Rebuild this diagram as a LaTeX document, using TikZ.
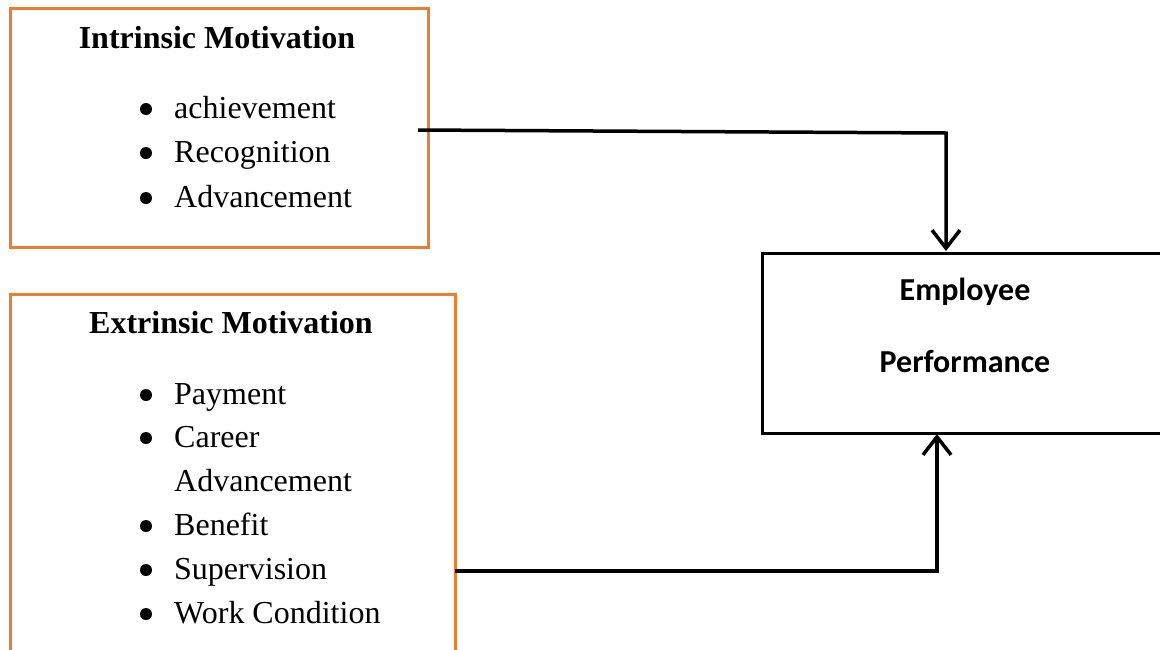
\documentclass[tikz,border=0pt]{standalone}
\usepackage{fontspec}
\setmainfont{Liberation Serif}
\newfontfamily\calfont{Carlito}
\usetikzlibrary{arrows.meta}
\definecolor{boxorange}{HTML}{ED7D31}
\tikzset{
  x=1pt, y=-1pt,
  obox/.style={draw=boxorange, line width=2.5pt, rectangle, anchor=north west, inner sep=0pt},
  kbox/.style={draw=black, line width=2.5pt, rectangle, anchor=north west, inner sep=0pt},
  ttl/.style={font=\fontsize{32}{38}\selectfont\bfseries, anchor=base, inner sep=0pt},
  itm/.style={font=\fontsize{32}{38}\selectfont, anchor=base west, inner sep=0pt},
  bul/.style={circle, fill=black, minimum size=12pt, inner sep=0pt},
  emp/.style={font=\calfont\fontsize{32}{38}\selectfont\bfseries, anchor=base, inner sep=0pt},
  conn/.style={line width=3.5pt, -{Straight Barb[length=18pt,width=28pt,line width=3.5pt]}},
}
\begin{document}
\begin{tikzpicture}
\useasboundingbox (0,0) rectangle (1160,649);
\clip (0,0) rectangle (1160,649);
\fill[white] (0,0) rectangle (1160,649);
% boxes
\node[obox, minimum width=418pt, minimum height=239pt] (intr) at (9,7) {};
\node[obox, minimum width=445pt, minimum height=400pt] (extr) at (9,293) {};
\node[kbox, minimum width=420pt, minimum height=180pt] (perf) at (761,252) {};
% intrinsic text
\node[ttl] (t1) at (217,48) {Intrinsic Motivation};
\node[bul] (b11) at (146,109) {};
\node[itm] (i11) at (174,118) {achievement};
\node[bul] (b12) at (146,153) {};
\node[itm] (i12) at (174,162) {Recognition};
\node[bul] (b13) at (146,198) {};
\node[itm] (i13) at (174,207) {Advancement};
% extrinsic text
\node[ttl] (t2) at (231,333) {Extrinsic Motivation};
\node[bul] (b21) at (146,395) {};
\node[itm] (i21) at (174,404) {Payment};
\node[bul] (b22) at (146,438) {};
\node[itm] (i22) at (174,447) {Career};
\node[itm] (i22b) at (174,491) {Advancement};
\node[bul] (b23) at (146,526) {};
\node[itm] (i23) at (174,535) {Benefit};
\node[bul] (b24) at (146,570) {};
\node[itm] (i24) at (174,579) {Supervision};
\node[bul] (b25) at (146,614) {};
\node[itm] (i25) at (174,623) {Work Condition};
% employee text
\node[emp] (e1) at (965,300) {Employee};
\node[emp] (e2) at (965,372) {Performance};
% connectors
\coordinate (s1) at (418,130);
\coordinate (c1) at (946,133);
\coordinate (a1) at (946,251);
\coordinate (s2) at (455,571);
\coordinate (c2) at (937,571);
\coordinate (a2) at (937,434);
\draw[conn] (s1) -- (c1) -- (a1);
\draw[conn] (s2) -- (c2) -- (a2);
\end{tikzpicture}
\end{document}
